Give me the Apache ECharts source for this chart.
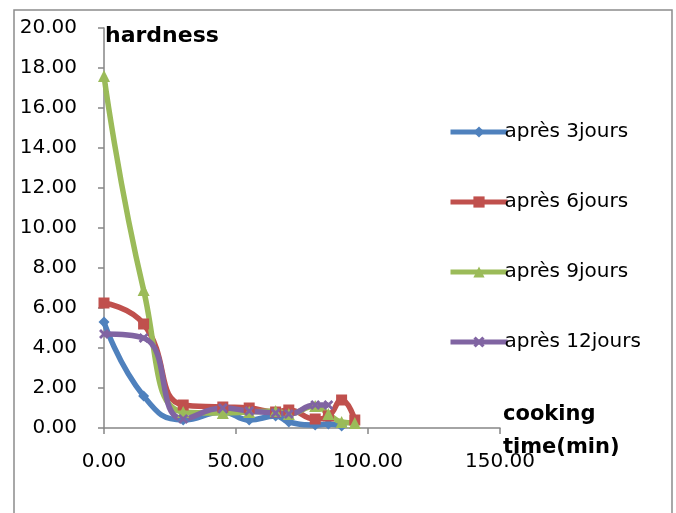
<!DOCTYPE html>
<html>
<head>
<meta charset="utf-8">
<script src="https://cdn.jsdelivr.net/npm/echarts@6/dist/echarts.min.js"></script>
<style>
html,body{margin:0;padding:0;background:#fff;}
#c{width:676px;height:513px;}
</style>
</head>
<body>
<div id="c"></div>
<script>
// cooking time (min)
var times = [0, 15, 30, 45, 55, 65, 70, 80, 85, 90, 95];
var seriesNames = ['après 3jours', 'après 6jours', 'après 9jours', 'après 12jours'];
var hard3 = [5.3, 1.6, 0.4, 0.8, 0.4, 0.6, 0.3, 0.15, 0.2, 0.1];
var hard6 = [6.25, 5.2, 1.15, 1.05, 1.0, 0.8, 0.9, 0.45, 0.6, 1.4, 0.4];
var hard9 = [17.6, 6.9, 0.8, 0.75, 0.8, 0.85, 0.7, 1.1, 0.7, 0.3, 0.25];
var hard12 = [4.7, 4.5, 0.45, 1.0, 0.85, 0.75, 0.7, 1.15, 1.15];
var xTicks = [0, 50, 100, 150];
var yTicks = [0, 2, 4, 6, 8, 10, 12, 14, 16, 18, 20];

function pairs(vals) {
  return vals.map(function (v, i) { return [times[i], v]; });
}

var colors = ['#4F81BD', '#C0504D', '#9BBB59', '#8064A2'];
var xPath = 'path://M2,0 L5,3 L8,0 L10,2 L7,5 L10,8 L8,10 L5,7 L2,10 L0,8 L3,5 L0,2 Z';
var symbols = ['diamond', 'rect', 'triangle', xPath];
var sizes = [11, 11, 12, 10];
var allData = [hard3, hard6, hard9, hard12];

var chart = echarts.init(document.getElementById('c'), null, {renderer: 'canvas'});
var font = 'DejaVu Sans';

var option = {
  animation: false,
  backgroundColor: '#fff',
  color: colors,
  grid: {left: 104, right: 176, top: 28, bottom: 85, containLabel: false, outerBoundsMode: 'none'},
  xAxis: {
    type: 'value', min: xTicks[0], max: xTicks[xTicks.length - 1], interval: 50,
    axisLine: {lineStyle: {color: '#868686', width: 1.5}},
    axisTick: {show: true, length: 6, lineStyle: {color: '#868686', width: 1.5}},
    splitLine: {show: false},
    axisLabel: {color: '#000', fontFamily: font, fontSize: 20, margin: 24,
      hideOverlap: false,
      formatter: function (v) { return v.toFixed(2); }}
  },
  yAxis: {
    type: 'value', min: yTicks[0], max: yTicks[yTicks.length - 1], interval: 2,
    axisLine: {show: true, lineStyle: {color: '#868686', width: 1.5}},
    axisTick: {show: true, length: 6, lineStyle: {color: '#868686', width: 1.5}},
    splitLine: {show: false},
    axisLabel: {color: '#000', fontFamily: font, fontSize: 20, margin: 27,
      formatter: function (v) { return v.toFixed(2); }}
  },
  legend: {
    orient: 'vertical', left: 443, top: 117,
    itemWidth: 57, itemHeight: 14, itemGap: 50,
    lineStyle: {width: 5},
    textStyle: {color: '#000', fontFamily: font, fontSize: 20, lineHeight: 20, padding: [0, 0, 0, -8]},
    data: seriesNames
  },
  series: allData.map(function (d, i) {
    return {
      name: seriesNames[i], type: 'line', smooth: 0.5,
      data: pairs(d),
      symbol: symbols[i], symbolSize: sizes[i],
      lineStyle: {width: 5.5, color: colors[i]},
      itemStyle: {color: colors[i]}
    };
  }),
  graphic: [
    {type: 'rect', shape: {x: 14, y: 10, width: 658, height: 520},
      style: {fill: 'none', stroke: '#8c8c8c', lineWidth: 1.5}, silent: true, z: -1},
    {type: 'text', left: 105, top: 25,
      style: {text: 'hardness', font: 'bold 22px "DejaVu Sans"', fill: '#000'}},
    {type: 'text', left: 503, top: 398,
      style: {text: 'cooking\ntime(min)', font: 'bold 21px "DejaVu Sans"', fill: '#000', lineHeight: 33}}
  ]
};
chart.setOption(option);
</script>
</body>
</html>
